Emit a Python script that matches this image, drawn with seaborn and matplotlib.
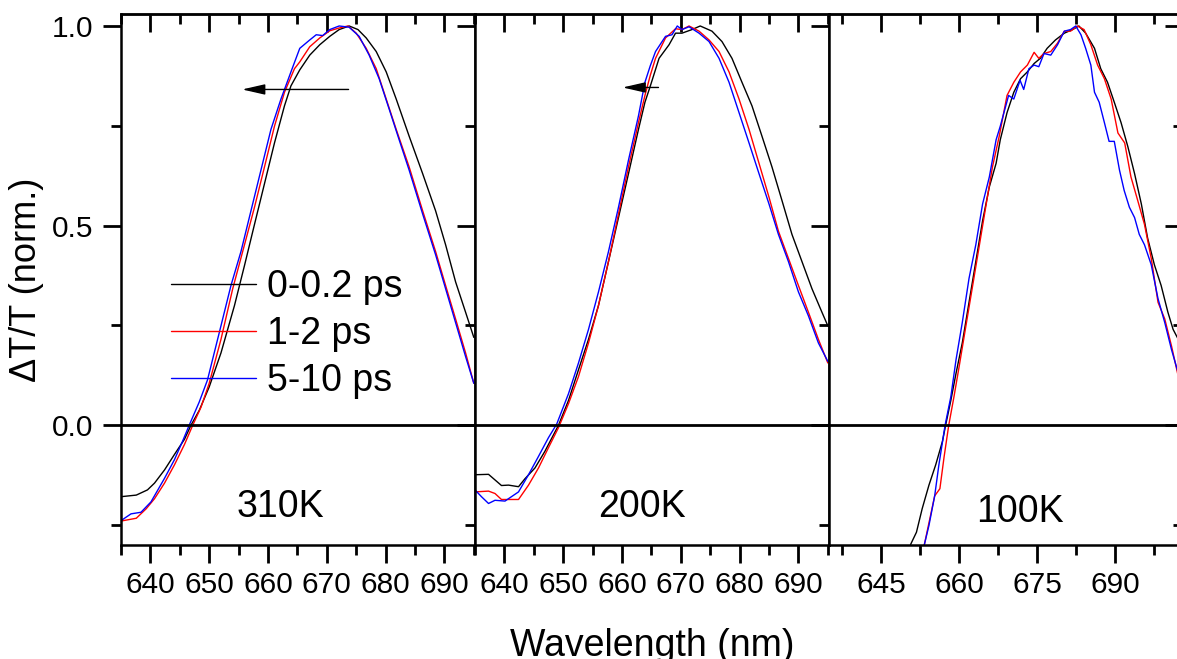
import numpy as np
import pandas as pd
import matplotlib.pyplot as plt
import seaborn as sns
from matplotlib.lines import Line2D

# ---- data (wavelength in nm, normalised dT/T) ----
delays = ['0-0.2 ps', '1-2 ps', '5-10 ps']
temps = ['310K', '200K', '100K']

# 310K
wl_310_a = [635, 637.6, 639.5, 640.7, 642.4, 644.1, 645.8, 646.9, 648.3, 650, 652, 654.3, 656, 657.7,
            659.4, 661.1, 662.8, 663.9, 665.4, 667.1, 668.8, 670.5, 672.1, 673.8, 675.3, 676.7, 678.4,
            680.1, 681.8, 684, 686.3, 688.5, 690.2, 691.9, 693.6, 695]
dt_310_a = [-0.179, -0.175, -0.162, -0.145, -0.112, -0.073, -0.035, 0.0, 0.037, 0.096, 0.181, 0.30, 0.40, 0.503,
            0.605, 0.707, 0.80, 0.85, 0.89, 0.927, 0.953, 0.974, 0.991, 1.0, 0.991, 0.97, 0.936,
            0.885, 0.817, 0.724, 0.63, 0.537, 0.452, 0.359, 0.283, 0.22]
wl_310_b = [635, 637.6, 639.3, 640.7, 642.4, 644.1, 645.8, 647.2, 648.6, 650, 652, 654, 656, 657.7, 659.4,
            661.1, 662.8, 664.5, 665.4, 667.1, 668.8, 670.5, 672.1, 673.6, 675, 676.7, 678.4, 680.1, 681.8,
            684, 686.3, 688.5, 690.2, 691.9, 693.6, 695]
dt_310_b = [-0.24, -0.233, -0.209, -0.184, -0.145, -0.099, -0.048, 0.0, 0.045, 0.105, 0.215, 0.342, 0.452,
            0.546, 0.647, 0.749, 0.834, 0.893, 0.91, 0.948, 0.97, 0.988, 0.995, 1.0, 0.982, 0.944, 0.893,
            0.817, 0.741, 0.647, 0.537, 0.435, 0.35, 0.266, 0.181, 0.105]
wl_310_c = [635, 636.7, 638.4, 640.1, 642.4, 644.1, 645.5, 646.6, 648.3, 649.7, 652, 653.7, 655.4, 657.1,
            658.8, 660.5, 662.2, 663.9, 665.4, 667.1, 668.2, 669.3, 670.5, 672.1, 673.8, 675.5, 677.2,
            678.9, 680.6, 682.3, 684, 686.3, 688.5, 690.2, 691.9, 693.6, 695]
dt_310_c = [-0.239, -0.222, -0.218, -0.192, -0.133, -0.086, -0.039, 0.0, 0.058, 0.113, 0.249, 0.35, 0.435,
            0.537, 0.639, 0.741, 0.817, 0.885, 0.944, 0.965, 0.978, 0.976, 0.991, 1.0, 0.997, 0.974, 0.927,
            0.868, 0.792, 0.715, 0.639, 0.529, 0.427, 0.342, 0.257, 0.172, 0.105]

# 200K
wl_200_a = [635, 637.3, 638.4, 639.5, 640.7, 642.4, 643.5, 645.2, 646.9, 649.2, 650.9, 652.6, 654.3, 656,
            657.7, 659.4, 661.1, 662.8, 663.9, 664.8, 666.3, 668, 669.1, 670.2, 671.9, 673.3, 675.3, 677,
            678.7, 680.4, 682.1, 683.8, 685.5, 687.2, 688.9, 690.6, 692.3, 694, 695]
dt_200_a = [-0.124, -0.123, -0.137, -0.151, -0.15, -0.154, -0.134, -0.107, -0.065, 0.0, 0.062, 0.139, 0.215,
            0.30, 0.41, 0.52, 0.63, 0.741, 0.809, 0.849, 0.919, 0.953, 0.982, 0.982, 0.991, 1.0, 0.987,
            0.961, 0.919, 0.859, 0.80, 0.724, 0.647, 0.563, 0.478, 0.41, 0.342, 0.283, 0.249]
wl_200_b = [635, 637.3, 638.4, 639.5, 642.4, 644.1, 645.8, 647.5, 649.2, 650.9, 652.6, 654.3, 656, 657.7,
            659.4, 661.1, 662.8, 663.9, 664.8, 665.7, 667.4, 669.1, 670.2, 671.4, 673.1, 674.8, 676.5,
            678.2, 679.9, 681.6, 683.3, 685, 686.6, 688.3, 690, 691.7, 693.4, 695]
dt_200_b = [-0.167, -0.165, -0.171, -0.186, -0.186, -0.15, -0.107, -0.056, -0.006, 0.054, 0.122, 0.206,
            0.30, 0.41, 0.529, 0.647, 0.758, 0.826, 0.876, 0.919, 0.97, 0.993, 0.991, 1.0, 0.987, 0.965,
            0.936, 0.885, 0.817, 0.741, 0.656, 0.571, 0.486, 0.418, 0.35, 0.283, 0.215, 0.156]
wl_200_c = [635, 636.1, 637.3, 638.4, 640.1, 641.2, 642.4, 644.1, 645.8, 647.5, 648.9, 650.9, 652.6, 654.3,
            656, 657.7, 659.4, 661.1, 662.8, 663.9, 664.8, 665.7, 667.4, 668.5, 669.4, 670.2, 671.4, 673.1,
            674.8, 676.5, 678.2, 679.9, 681.6, 683.3, 685, 686.6, 688.3, 690, 691.7, 693.4, 695]
dt_200_c = [-0.162, -0.179, -0.196, -0.188, -0.19, -0.179, -0.167, -0.124, -0.078, -0.031, 0.003, 0.079,
            0.156, 0.24, 0.334, 0.435, 0.546, 0.664, 0.775, 0.859, 0.90, 0.936, 0.974, 0.978, 1.0, 0.991,
            0.998, 0.982, 0.961, 0.919, 0.859, 0.783, 0.707, 0.63, 0.554, 0.478, 0.41, 0.334, 0.274, 0.206,
            0.16]

# 100K
wl_100_a = [650.3, 650.7, 651.8, 652.9, 654.2, 655.5, 656.8, 657.4, 658.4, 659.4, 660.6, 661.9, 663.2,
            664.5, 665.8, 667.1, 667.9, 669.2, 670.5, 671.8, 673.1, 674.4, 675.6, 676.9, 678.5, 680.2,
            681.8, 683, 684.3, 686, 687.2, 688.5, 689.8, 691.1, 692.4, 693.7, 695, 696.2, 697.5, 698.8,
            700.1, 701.1, 702.1, 703]
dt_100_a = [-0.33, -0.298, -0.268, -0.209, -0.15, -0.099, -0.04, 0.0, 0.062, 0.13, 0.206, 0.308, 0.41,
            0.512, 0.597, 0.656, 0.715, 0.783, 0.834, 0.868, 0.885, 0.906, 0.919, 0.944, 0.965, 0.982,
            0.991, 1.0, 0.982, 0.944, 0.893, 0.859, 0.809, 0.758, 0.698, 0.63, 0.554, 0.469, 0.402, 0.35,
            0.283, 0.24, 0.215, 0.18]
wl_100_b = [652.8, 653.3, 655.3, 656.3, 657.1, 658.0, 659, 660, 661.3, 662.6, 663.9, 665.2, 666.4, 667.7,
            668.7, 669.2, 670.5, 671.8, 673.1, 674.4, 675.3, 676.3, 677.6, 678.9, 680.2, 681.4, 682.7,
            684, 685.3, 686.6, 687.9, 689.2, 690.5, 691.8, 693, 694.3, 695.6, 696.9, 698.2, 699.5, 700.8,
            702.1, 703]
dt_100_b = [-0.33, -0.30, -0.177, -0.159, -0.08, 0.0, 0.071, 0.147, 0.249, 0.35, 0.452, 0.554, 0.647, 0.724,
            0.792, 0.826, 0.859, 0.885, 0.902, 0.934, 0.919, 0.931, 0.936, 0.957, 0.987, 0.987, 1.0, 0.991,
            0.953, 0.902, 0.868, 0.817, 0.732, 0.707, 0.622, 0.563, 0.503, 0.418, 0.308, 0.266, 0.198,
            0.122, 0.09]
wl_100_c = [652.8, 653.3, 654.2, 655.3, 656.1, 657.3, 658.4, 659.4, 660.6, 661.9, 663.2, 664.5, 665.8,
            667.1, 667.9, 669.5, 670.5, 671.7, 672.4, 673.4, 674.4, 675.3, 676.3, 677.6, 678.9, 680.2,
            681.4, 682.4, 683.4, 684.3, 685.3, 686, 686.9, 687.9, 688.8, 689.8, 690.8, 691.7, 692.7,
            693.7, 694.6, 695.6, 696.9, 698.2, 699.5, 700.8, 702.1, 703]
dt_100_c = [-0.33, -0.30, -0.251, -0.177, -0.10, 0.0, 0.071, 0.164, 0.257, 0.368, 0.452, 0.554, 0.622,
            0.715, 0.749, 0.826, 0.817, 0.864, 0.841, 0.893, 0.902, 0.898, 0.931, 0.927, 0.953, 0.987,
            0.991, 1.0, 0.978, 0.944, 0.902, 0.834, 0.809, 0.758, 0.711, 0.711, 0.639, 0.588, 0.546,
            0.52, 0.478, 0.452, 0.402, 0.317, 0.257, 0.189, 0.13, 0.09]

series = {
    '310K': [(wl_310_a, dt_310_a), (wl_310_b, dt_310_b), (wl_310_c, dt_310_c)],
    '200K': [(wl_200_a, dt_200_a), (wl_200_b, dt_200_b), (wl_200_c, dt_200_c)],
    '100K': [(wl_100_a, dt_100_a), (wl_100_b, dt_100_b), (wl_100_c, dt_100_c)],
}
rows = []
for t in temps:
    for d, (wl, dt) in zip(delays, series[t]):
        for x, y in zip(wl, dt):
            rows.append((t, d, x, y))
df = pd.DataFrame(rows, columns=['temp', 'delay', 'wl', 'dT'])

pal = {'0-0.2 ps': '#000000', '1-2 ps': '#ff0000', '5-10 ps': '#0000ff'}

sns.set_style('ticks')
plt.rcParams['font.family'] = ['Liberation Sans', 'DejaVu Sans']
plt.rcParams['text.color'] = 'black'
plt.rcParams['xtick.color'] = 'black'
plt.rcParams['ytick.color'] = 'black'
plt.rcParams['axes.labelcolor'] = 'black'

W, H = 1177, 659
fig = plt.figure(figsize=(W / 100, H / 100), dpi=100)

lefts = [121, 475, 829]
pw = 354
bot = (H - 545) / H
ht = 531 / H
xlims = [(635, 695.2), (635, 695.2), (635, 703)]
xmaj = [np.arange(640, 691, 10), np.arange(640, 691, 10), np.arange(645, 691, 15)]
xmin = [np.arange(635, 696, 5), np.arange(635, 696, 5), np.arange(637.5, 703, 7.5)]
lab_pos = [(662.1, -0.231), (663.4, -0.231), (671.6, -0.2425)]
arrows = [((673.7, 0.841), (655.6, 0.841)), ((666.2, 0.846), (660.1, 0.846)), None]

tick_kw = dict(width=2.0, color='black')
for i, t in enumerate(temps):
    ax = fig.add_axes([lefts[i] / W, bot, pw / W, ht])
    sns.lineplot(data=df[df['temp'] == t], x='wl', y='dT', hue='delay', palette=pal,
                 sort=False, estimator=None, lw=1.0, ax=ax, legend=False)
    ax.axhline(0, color='black', lw=2.0, zorder=3)
    ax.set_xlim(*xlims[i])
    ax.set_ylim(-0.3, 1.03)
    ax.set_xlabel('')
    ax.set_ylabel('')
    for s in ax.spines.values():
        s.set_visible(True)
        s.set_linewidth(1.8)
        s.set_color('black')

    ax.set_xticks(xmaj[i])
    ax.set_xticks(xmin[i], minor=True)
    ax.set_xticklabels([str(v) for v in xmaj[i]])
    ax.set_yticks([0.0, 0.5, 1.0])
    ax.set_yticks([-0.25, 0.25, 0.75], minor=True)
    ax.set_yticklabels(['0.0', '0.5', '1.0'])
    ax.tick_params(which='major', direction='out', length=13, labelsize=21.5, pad=6,
                   labelcolor='black', **tick_kw)
    ax.tick_params(which='minor', direction='out', length=7, **tick_kw)
    ax.tick_params(axis='y', pad=7, right=False, which='both')
    if i > 0:
        ax.tick_params(axis='y', labelleft=False)

    top = ax.secondary_xaxis('top')
    top.set_xticks(xmaj[i])
    top.set_xticks(xmin[i], minor=True)
    top.tick_params(which='major', direction='in', length=13, labeltop=False, **tick_kw)
    top.tick_params(which='minor', direction='in', length=7, **tick_kw)
    top.spines['top'].set_linewidth(1.8)
    if i == 2:
        rt = ax.secondary_yaxis('right')
        rt.set_yticks([0.0, 0.5, 1.0])
        rt.set_yticks([-0.25, 0.25, 0.75], minor=True)
        rt.tick_params(which='major', direction='in', length=13, labelright=False, **tick_kw)
        rt.tick_params(which='minor', direction='in', length=7, **tick_kw)

    ax.text(lab_pos[i][0], lab_pos[i][1], t, fontsize=27, ha='center', va='baseline', color='black')
    if arrows[i] is not None:
        (x0, y0), (x1, y1) = arrows[i]
        ax.annotate('', xy=(x1, y1), xytext=(x0, y0),
                    arrowprops=dict(arrowstyle='-|>,head_length=1.4,head_width=0.32',
                                    color='black', lw=1.0, shrinkA=0, shrinkB=0))
    if i == 0:
        handles = [Line2D([], [], color=pal[d], lw=1.0) for d in delays]
        leg = ax.legend(handles, delays, loc='center left', bbox_to_anchor=(0.141, 0.397),
                        frameon=False, fontsize=27, handlelength=2.27, handletextpad=0.29,
                        labelspacing=0.29, borderpad=0, borderaxespad=0)
        for tx in leg.get_texts():
            tx.set_color('black')

fig.text(652 / W, 3 / H, 'Wavelength (nm)', fontsize=27, ha='center', va='baseline', color='black')
fig.text(27 / W, 1 - 280 / H, 'ΔT/T (norm.)', fontsize=26, rotation=90, ha='center', va='center',
         color='black')

fig.savefig('out.png', dpi=100)
